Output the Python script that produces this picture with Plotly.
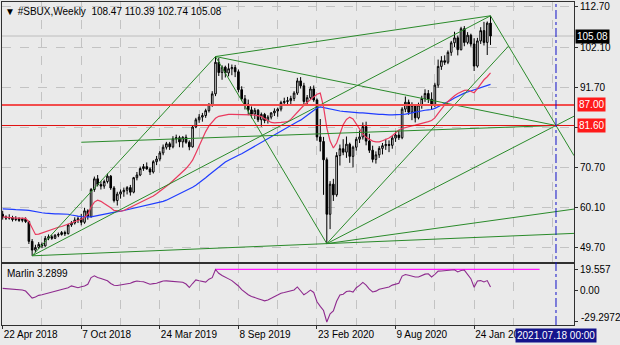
import datetime as dt
import plotly.graph_objects as go

# ---------------- data ----------------
first_week = dt.datetime(2018, 4, 22)
n_weeks = 150
dates = [first_week + dt.timedelta(weeks=i) for i in range(n_weeks)]

opens = [58.3, 57.6, 57.3, 57.4, 56.9, 57.1, 56.7, 57.0, 56.4, 51.2,
         48.9, 49.6, 50.4, 50.0, 52.0, 52.4, 52.0, 52.8, 53.0, 53.5,
         53.2, 55.5, 56.0, 56.8, 57.1, 56.2, 59.2, 57.7, 64.8, 67.6,
         66.1, 65.7, 66.9, 68.3, 65.2, 61.9, 63.6, 64.2, 64.6, 65.3,
         64.1, 67.9, 68.6, 70.3, 70.8, 70.2, 69.4, 72.1, 72.8, 74.4,
         75.9, 76.8, 76.0, 78.1, 78.4, 77.3, 78.5, 77.2, 76.0, 81.2,
         83.1, 83.8, 84.2, 85.5, 87.1, 89.9, 98.2, 95.5, 96.9, 95.4,
         96.5, 96.8, 95.7, 91.0, 88.6, 87.2, 85.7, 84.6, 85.6, 83.1,
         84.5, 82.9, 83.8, 84.9, 85.4, 85.9, 87.6, 87.9, 88.1, 88.7,
         90.1, 93.3, 92.0, 87.9, 88.9, 91.2, 88.3, 78.6, 77.4, 72.6,
         58.3, 66.2, 63.4, 73.7, 75.5, 74.6, 76.7, 73.5, 75.9, 78.0,
         78.6, 81.3, 77.5, 75.1, 72.7, 73.9, 75.6, 76.3, 76.6, 76.4,
         78.3, 79.1, 78.4, 85.9, 87.7, 85.1, 86.9, 83.6, 87.0, 88.7,
         90.0, 88.5, 86.9, 92.2, 97.1, 98.6, 98.2, 100.8, 103.3, 104.6,
         101.5, 107.0, 103.4, 105.3, 103.0, 97.2, 103.8, 106.5, 103.4, 108.47]
highs = [59.2, 58.0, 58.3, 57.9, 57.8, 57.5, 57.4, 57.5, 56.6, 51.8,
         50.3, 51.0, 50.9, 52.6, 53.0, 52.9, 53.1, 53.5, 53.9, 54.0,
         55.8, 56.5, 57.5, 57.8, 58.4, 60.0, 59.6, 65.2, 68.2, 68.6,
         67.0, 67.4, 69.0, 68.6, 65.7, 64.2, 64.8, 65.3, 65.7, 66.0,
         68.1, 69.4, 70.8, 71.5, 71.9, 70.6, 72.5, 73.6, 74.9, 76.6,
         77.3, 77.3, 78.8, 79.2, 78.9, 78.8, 79.2, 77.7, 81.6, 83.6,
         84.6, 84.9, 86.0, 87.5, 90.6, 99.7, 99.3, 97.4, 97.3, 97.9,
         97.6, 97.5, 96.3, 91.9, 89.6, 88.4, 86.6, 86.2, 85.9, 85.0,
         84.9, 84.3, 85.1, 86.1, 86.3, 88.1, 88.9, 89.1, 89.4, 90.6,
         94.1, 94.3, 92.8, 89.6, 91.9, 92.1, 88.7, 83.3, 78.6, 73.2,
         67.0, 67.6, 74.6, 76.6, 78.0, 78.7, 77.1, 76.3, 78.6, 80.3,
         82.4, 82.6, 79.4, 76.3, 74.8, 76.2, 77.0, 78.1, 77.7, 78.9,
         80.1, 80.4, 86.4, 89.2, 88.4, 87.7, 87.1, 87.6, 89.4, 91.1,
         90.9, 90.3, 92.8, 98.9, 99.8, 100.0, 101.3, 103.8, 106.2, 105.2,
         107.5, 107.7, 106.1, 105.7, 104.5, 104.6, 107.4, 108.8, 108.9, 110.39]
lows = [56.9, 56.8, 56.9, 56.4, 56.5, 56.3, 56.2, 56.0, 50.5, 47.4,
        48.3, 49.2, 49.4, 49.8, 51.5, 51.6, 51.8, 52.3, 52.7, 52.6,
        53.0, 55.0, 55.6, 56.0, 55.4, 55.8, 56.9, 57.4, 64.2, 65.6,
        64.8, 65.0, 66.4, 64.7, 61.4, 60.6, 62.4, 62.9, 63.5, 63.2,
        63.8, 67.2, 68.3, 69.7, 70.0, 68.6, 69.0, 71.2, 72.2, 73.8,
        75.3, 75.2, 75.6, 76.9, 75.9, 75.8, 76.8, 75.1, 75.8, 80.9,
        82.3, 82.6, 83.6, 85.0, 86.5, 89.3, 94.6, 93.6, 94.2, 94.5,
        94.8, 94.3, 90.3, 88.0, 85.8, 84.3, 83.5, 83.3, 82.5, 81.3,
        82.2, 82.1, 83.2, 84.1, 83.9, 85.3, 86.8, 87.2, 86.9, 88.0,
        89.6, 91.3, 86.7, 86.8, 88.5, 87.8, 77.6, 74.8, 63.4, 50.6,
        54.4, 61.8, 62.9, 71.1, 73.8, 73.1, 71.8, 70.6, 75.0, 77.0,
        77.9, 76.4, 74.4, 71.9, 71.6, 73.1, 74.0, 75.2, 74.6, 75.5,
        77.3, 77.8, 78.0, 85.1, 84.4, 83.0, 82.4, 83.2, 86.0, 87.8,
        87.5, 85.8, 86.4, 91.5, 96.2, 97.5, 97.7, 99.9, 102.2, 100.0,
        101.3, 102.4, 102.9, 102.3, 95.9, 96.8, 103.0, 102.6, 100.1, 102.74]
closes = [57.6, 57.3, 57.4, 56.9, 57.1, 56.7, 57.0, 56.4, 51.2, 48.9,
          49.6, 50.4, 50.0, 52.0, 52.4, 52.0, 52.8, 53.0, 53.5, 53.2,
          55.5, 56.0, 56.8, 57.1, 56.2, 59.2, 57.7, 64.8, 67.6, 66.1,
          65.7, 66.9, 68.3, 65.2, 61.9, 63.6, 64.2, 64.6, 65.3, 64.1,
          67.9, 68.6, 70.3, 70.8, 70.2, 69.4, 72.1, 72.8, 74.4, 75.9,
          76.8, 76.0, 78.1, 78.4, 77.3, 78.5, 77.2, 76.0, 81.2, 83.1,
          83.8, 84.2, 85.5, 87.1, 89.9, 98.2, 95.5, 96.9, 95.4, 96.5,
          96.8, 95.7, 91.0, 88.6, 87.2, 85.7, 84.6, 85.6, 83.1, 84.5,
          82.9, 83.8, 84.9, 85.4, 85.9, 87.6, 87.9, 88.1, 88.7, 90.1,
          93.3, 92.0, 87.9, 88.9, 91.2, 88.3, 78.6, 77.4, 72.6, 58.3,
          66.2, 63.4, 73.7, 75.5, 74.6, 76.7, 73.5, 75.9, 78.0, 78.6,
          81.3, 77.5, 75.1, 72.7, 73.9, 75.6, 76.3, 76.6, 76.4, 78.3,
          79.1, 78.4, 85.9, 87.7, 85.1, 86.9, 83.6, 87.0, 88.7, 90.0,
          88.5, 86.9, 92.2, 97.1, 98.6, 98.2, 100.8, 103.3, 104.6, 101.5,
          107.0, 103.4, 105.3, 103.0, 97.2, 103.8, 106.5, 103.4, 108.47, 105.08]

# moving averages as plotted on the chart (red = fast, blue = slow)
ma_fast = [57.6, 57.5, 57.4, 57.4, 57.3, 57.3, 57.2, 57.2, 56.4, 54.6,
           53.0, 53.1, 53.4, 53.8, 54.2, 54.4, 54.7, 54.9, 55.1, 55.4,
           55.6, 55.9, 56.3, 56.6, 57.0, 57.5, 58.3, 60.2, 61.5, 62.0,
           61.7, 61.1, 60.6, 60.0, 59.3, 59.1, 59.1, 59.3, 59.7, 60.1,
           60.6, 61.0, 61.4, 61.8, 62.2, 62.6, 63.1, 63.7, 64.3, 64.9,
           65.5, 66.3, 67.1, 67.9, 68.6, 69.4, 70.3, 71.3, 72.5, 74.3,
           76.2, 78.2, 80.0, 81.5, 82.6, 83.5, 84.0, 84.2, 84.4, 84.5,
           84.5, 84.5, 84.5, 84.4, 84.4, 84.4, 84.4, 84.3, 84.2, 84.0,
           83.4, 82.8, 82.4, 82.3, 82.3, 82.4, 82.5, 82.6, 83.2, 84.2,
           85.2, 86.0, 86.9, 87.7, 88.5, 89.1, 89.8, 90.1, 86.5, 81.0,
           77.5, 75.7, 77.0, 79.5, 81.8, 83.2, 83.8, 83.3, 82.0, 80.6,
           79.4, 78.5, 77.9, 77.5, 77.3, 77.3, 77.6, 77.9, 78.3, 78.9,
           79.6, 80.4, 80.8, 81.1, 81.3, 81.5, 81.7, 81.9, 82.1, 82.4,
           82.6, 82.9, 83.6, 84.8, 86.0, 87.0, 87.9, 88.7, 89.4, 90.0,
           90.5, 90.8, 90.9, 90.6, 90.2, 91.3, 92.6, 93.6, 94.4, 95.4]
ma_slow = [59.7, 59.7, 59.6, 59.6, 59.5, 59.5, 59.4, 59.4, 59.3, 59.1,
           58.9, 58.8, 58.7, 58.6, 58.5, 58.4, 58.4, 58.4, 58.4, 58.4,
           58.3, 58.1, 57.9, 57.8, 57.7, 57.6, 57.6, 57.6, 57.8, 58.0,
           58.2, 58.4, 58.5, 58.7, 58.8, 59.0, 59.1, 59.3, 59.5, 59.6,
           59.9, 60.1, 60.3, 60.5, 60.7, 60.9, 61.1, 61.3, 61.5, 61.7,
           62.0, 62.4, 62.8, 63.2, 63.6, 64.0, 64.4, 64.9, 65.4, 65.9,
           66.5, 67.2, 67.9, 68.6, 69.3, 70.0, 70.7, 71.4, 72.0, 72.5,
           73.0, 73.4, 73.8, 74.2, 74.7, 75.2, 75.6, 76.1, 76.6, 77.1,
           77.6, 78.1, 78.6, 79.1, 79.6, 80.1, 80.6, 81.1, 81.6, 82.1,
           82.6, 83.0, 83.6, 84.3, 84.9, 85.6, 86.2, 86.5, 86.3, 86.0,
           85.8, 85.6, 85.5, 85.4, 85.3, 85.2, 85.1, 85.0, 84.9, 84.9,
           84.9, 84.8, 84.8, 84.7, 84.6, 84.5, 84.5, 84.4, 84.4, 84.4,
           84.4, 84.4, 84.5, 84.6, 84.7, 84.9, 85.1, 85.3, 85.5, 85.6,
           85.7, 85.8, 86.1, 86.5, 86.9, 87.3, 87.8, 88.3, 88.8, 89.3,
           89.8, 90.1, 90.4, 90.7, 91.0, 91.3, 91.6, 91.9, 92.2, 92.4]

# Marlin oscillator (lower window)
marlin = [2.0, 1.8, 1.6, 1.4, 1.0, 0.8, 0.5, -0.5, -3.5, -7.0,
          -6.0, -4.5, -4.0, -3.2, -2.8, -1.5, -0.8, 0.2, 0.8, 1.6,
          2.6, 4.3, 3.2, 2.6, 3.5, 4.2, 5.8, 12.0, 13.6, 12.0,
          11.2, 10.2, 9.0, 6.5, 4.8, 4.6, 5.0, 5.4, 6.0, 6.8,
          8.0, 8.8, 8.4, 8.1, 7.0, 5.8, 6.4, 6.7, 7.8, 8.8,
          8.9, 8.7, 8.5, 8.2, 7.9, 7.7, 6.0, 2.8, 6.5, 9.8,
          9.0, 8.3, 7.8, 10.5, 11.9, 19.557, 16.0, 14.0, 12.0, 10.8,
          9.2, 7.0, 4.2, 0.8, -1.8, -4.0, -5.5, -6.8, -7.6, -8.6,
          -9.6, -8.8, -7.2, -5.6, -3.8, -2.5, -1.9, -1.2, -0.6, 0.5,
          3.3, -0.3, -4.0, -2.0, 0.3, -1.8, -10.5, -14.8, -18.6, -29.2972,
          -21.6, -19.0, -10.0, -4.1, -3.5, -1.0, -0.5, -1.5, 2.6, 4.7,
          7.5, 5.0, 1.2, -1.4, -0.6, 1.2, 1.8, 2.4, 3.3, 5.0,
          5.9, 6.8, 13.4, 14.8, 14.1, 13.3, 12.6, 12.5, 14.1, 15.2,
          15.5, 12.6, 15.0, 18.0, 18.1, 18.5, 19.2, 19.5, 19.3, 17.2,
          18.6, 19.0, 14.4, 11.0, 3.0, 8.8, 9.2, 7.9, 9.2, 3.2899]
marlin_level = 19.557
marlin_level_span = ("2019-07-21", "2021-06-13")
marlin_min = -29.2972

price_ticks = [112.70, 102.10, 91.70, 81.20, 70.70, 60.10, 49.70]
price_tick_text = ["112.70", "102.10", "91.70", "", "70.70", "60.10", "49.70"]
marlin_ticks = [marlin_level, 0.0, marlin_min]
marlin_tick_text = ["19.557", "0.00", ""]
date_ticks = ["2018-04-22", "2018-10-07", "2019-03-24", "2019-09-08",
              "2020-02-23", "2020-08-09", "2021-01-24"]
date_tick_text = ["22 Apr 2018", "7 Oct 2018", "24 Mar 2019", "8 Sep 2019",
                  "23 Feb 2020", "9 Aug 2020", "24 Jan 2021"]

levels = [(87.00, "#f24d4d", 2), (81.60, "#e01010", 1)]
cursor_date = "2021-07-18"

# trend-line pivots (date, price)
pivots = {
    "A": ("2018-06-24", 47.40),
    "P1": ("2019-07-21", 99.70),
    "P2": ("2021-02-28", 110.39),
    "B": ("2020-03-15", 50.60),
    "C": ("2021-07-18", 81.60),
    "S": ("2018-10-07", 77.20),
    "D": ("2021-07-18", 59.00),
}
# (from, to, extend to right edge)
segments = [("A", "P1", False), ("A", "P2", False), ("P1", "P2", False),
            ("P1", "B", False), ("P1", "C", False), ("S", "C", False),
            ("A", "B", True), ("P2", "C", True), ("B", "C", True), ("B", "D", True)]

# ---------------- styling ----------------
BG = "#eaeaea"
GRID = "#c3c3c3"
FRAME = "#303030"
GREEN = "#2a8a2a"
FONT = "Liberation Sans, Arial, sans-serif"

x_left = first_week - dt.timedelta(weeks=0.21)
x_right = first_week + dt.timedelta(weeks=174.5)
grid_dates = [first_week + dt.timedelta(weeks=12 * k) for k in range(15)]
minor_dates = [first_week + dt.timedelta(weeks=12 + 24 * k) for k in range(8)]


def ts(d):
    return dt.datetime.fromisoformat(d)


def value_at(p, q, t):
    t0, v0 = ts(p[0]), p[1]
    t1, v1 = ts(q[0]), q[1]
    return v0 + (v1 - v0) * (t - t0).total_seconds() / (t1 - t0).total_seconds()


fig = go.Figure()

fig.add_trace(go.Candlestick(
    x=dates, open=opens, high=highs, low=lows, close=closes,
    increasing=dict(line=dict(color="#000000", width=1), fillcolor="#ffffff"),
    decreasing=dict(line=dict(color="#000000", width=1), fillcolor="#000000"),
    whiskerwidth=0, xaxis="x", yaxis="y", hoverinfo="skip", showlegend=False))

fig.add_trace(go.Scatter(x=dates, y=ma_slow, mode="lines", xaxis="x", yaxis="y",
                         line=dict(color="#1f3cff", width=1.2), hoverinfo="skip"))
fig.add_trace(go.Scatter(x=dates, y=ma_fast, mode="lines", xaxis="x", yaxis="y",
                         line=dict(color="#ea3a5e", width=1.2), hoverinfo="skip"))

# trend lines
for a, b, extend in segments:
    p, q = pivots[a], pivots[b]
    if extend:
        xs = [ts(p[0]), x_right]
        ys = [p[1], value_at(p, q, x_right)]
    else:
        xs = [ts(p[0]), ts(q[0])]
        ys = [p[1], q[1]]
    fig.add_trace(go.Scatter(x=xs, y=ys, mode="lines", xaxis="x", yaxis="y",
                             line=dict(color=GREEN, width=1), hoverinfo="skip"))

# line from B parallel to A-P1, ending on the P2-C line
pA, pP1, pB, pP2, pC = (pivots[k] for k in ("A", "P1", "B", "P2", "C"))
k1 = (pP1[1] - pA[1]) / (ts(pP1[0]) - ts(pA[0])).days
k2 = (pC[1] - pP2[1]) / (ts(pC[0]) - ts(pP2[0])).days
dBP2 = (ts(pP2[0]) - ts(pB[0])).days
t_hit = (pP2[1] - k2 * dBP2 - pB[1]) / (k1 - k2)
fig.add_trace(go.Scatter(
    x=[ts(pB[0]), ts(pB[0]) + dt.timedelta(days=t_hit)],
    y=[pB[1], pB[1] + k1 * t_hit], mode="lines", xaxis="x", yaxis="y",
    line=dict(color=GREEN, width=1), hoverinfo="skip"))

# lower window
fig.add_trace(go.Scatter(x=list(marlin_level_span), y=[marlin_level] * 2, mode="lines",
                         xaxis="x2", yaxis="y2", line=dict(color="#ff1aff", width=1.2),
                         hoverinfo="skip"))
fig.add_trace(go.Scatter(x=dates, y=marlin, mode="lines", xaxis="x2", yaxis="y2",
                         line=dict(color="#8e2a8e", width=1.1), hoverinfo="skip"))

shapes = []
for lvl, col, w in levels:
    shapes.append(dict(type="line", xref="paper", x0=0, x1=1, yref="y", y0=lvl, y1=lvl,
                       line=dict(color=col, width=w), layer="above"))
shapes.append(dict(type="line", xref="paper", x0=0, x1=1, yref="y",
                   y0=closes[-1], y1=closes[-1], line=dict(color="#bdbdbd", width=1),
                   layer="below"))
shapes.append(dict(type="line", xref="x", x0=cursor_date, x1=cursor_date,
                   yref="paper", y0=0, y1=1,
                   line=dict(color="#1010c8", width=1, dash="dashdot"), layer="above"))

annotations = [
    dict(xref="paper", yref="paper", x=0, y=1, xanchor="left", yanchor="top",
         xshift=1, yshift=-2, showarrow=False,
         text="\u25bc #SBUX,Weekly\u00a0\u00a0{:.2f} {:.2f} {:.2f} {:.2f}".format(
             opens[-1], highs[-1], lows[-1], closes[-1]),
         font=dict(size=10, color="#000000")),
    dict(xref="paper", yref="paper", x=0, y=0.189, xanchor="left", yanchor="top",
         xshift=3, yshift=-2, showarrow=False,
         text="Marlin {:.4f}".format(marlin[-1]), font=dict(size=10, color="#000000")),
    dict(xref="paper", yref="y", x=1, y=closes[-1], xanchor="left", yanchor="middle",
         xshift=1, showarrow=False, text="{:.2f}".format(closes[-1]),
         bgcolor="#000000", borderpad=1, font=dict(size=10, color="#ffffff")),
    dict(xref="x2", yref="paper", x=cursor_date, y=0, xanchor="center", yanchor="top",
         yshift=-3, showarrow=False, text=cursor_date.replace("-", ".") + " 00:00",
         bgcolor="#14148c", borderpad=1, font=dict(size=10, color="#ffffff")),
    # lowest value of the lower window, printed just above its tick
    dict(xref="paper", yref="y2", x=1, y=marlin_min, xanchor="left", yanchor="middle",
         xshift=5, yshift=4, showarrow=False, text="{:.4f}".format(marlin_min),
         font=dict(size=10, color="#000000")),
]
for lvl, col, w in levels:
    annotations.append(dict(xref="paper", yref="y", x=1, y=lvl, xanchor="left",
                            yanchor="middle", xshift=3, showarrow=False,
                            text="{:.2f}".format(lvl), bgcolor="#ff1a1a", borderpad=1,
                            font=dict(size=10, color="#ffffff")))

axis_common = dict(showline=True, mirror=True, linecolor=FRAME, linewidth=1,
                   zeroline=False, fixedrange=True)

fig.update_layout(
    width=620, height=345, margin=dict(l=2, r=46, t=2, b=20),
    paper_bgcolor=BG, plot_bgcolor=BG, showlegend=False,
    font=dict(family=FONT, size=10, color="#000000"),
    shapes=shapes, annotations=annotations,
    xaxis=dict(type="date", range=[x_left, x_right], domain=[0, 1], anchor="y",
               tickmode="array", tickvals=grid_dates, showticklabels=False, ticks="",
               showgrid=True, gridcolor=GRID, griddash="dash", gridwidth=1,
               rangeslider=dict(visible=False), **axis_common),
    yaxis=dict(domain=[0.195, 1], range=[45.77, 114.01], side="right",
               tickmode="array", tickvals=price_ticks, ticktext=price_tick_text,
               ticks="outside", ticklen=3, tickcolor=FRAME,
               showgrid=True, gridcolor=GRID, griddash="dash", gridwidth=1,
               **axis_common),
    xaxis2=dict(type="date", matches="x", anchor="y2", domain=[0, 1],
                tickmode="array", tickvals=date_ticks, ticktext=date_tick_text,
                ticks="outside", ticklen=3, tickcolor=FRAME,
                ticklabelposition="outside right",
                showgrid=True, gridcolor=GRID, griddash="dash", gridwidth=1,
                minor=dict(tickmode="array", tickvals=minor_dates, showgrid=True,
                           gridcolor=GRID, griddash="dash", ticks=""),
                **axis_common),
    yaxis2=dict(domain=[0, 0.189], range=[-32.09, 24.675], side="right", anchor="x2",
                tickmode="array", tickvals=marlin_ticks, ticktext=marlin_tick_text,
                ticks="outside", ticklen=3, tickcolor=FRAME, showgrid=False,
                **axis_common),
)

fig.write_html("out.html")
